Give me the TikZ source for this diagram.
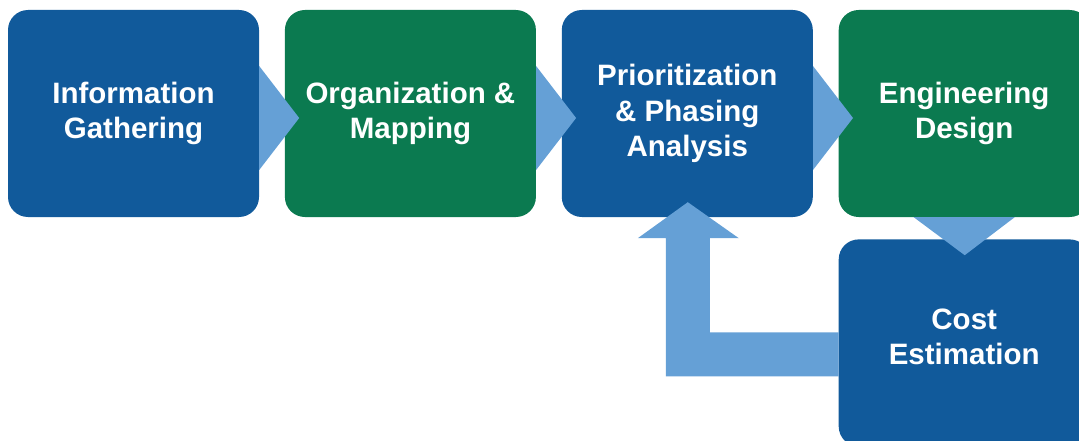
\documentclass[tikz,border=0pt]{standalone}
\usepackage{fontspec}
\setmainfont{Liberation Sans}
\usetikzlibrary{calc,positioning}

\definecolor{stepblue}{RGB}{17,90,155}
\definecolor{stepgreen}{RGB}{11,122,80}
\definecolor{flowblue}{RGB}{101,160,214}

\tikzset{
	stepbox/.style={rectangle, rounded corners=20pt, minimum width=251pt, minimum height=207pt, inner sep=0pt, text=white, align=center, font=\bfseries\fontsize{29.5}{35.5}\selectfont},
	stepblue/.style={stepbox, fill=stepblue},
	stepgreen/.style={stepbox, fill=stepgreen},
	steptext/.style={text=white, align=center, font=\bfseries\fontsize{29.5}{35.5}\selectfont},
	flow/.style={fill=flowblue}
}

\begin{document}
\begin{tikzpicture}[x=1pt, y=-1pt, node distance=25.5pt]
		%%%%% START %%%%%
		
		\clip (0,0) rectangle (1079,441);
		
		% process boxes
		\node[stepblue] (info) at (133.5,113.5) {Information\\Gathering};
		\node[stepgreen, right=of info] (org) {Organization \&\\Mapping};
		\node[stepblue, right=of org] (plan) {Prioritization\\\& Phasing\\Analysis};
		\node[stepgreen, right=of plan] (design) {Engineering\\Design};
		\node[stepblue, below=22pt of design] (cost) {};
		\node[steptext, yshift=6pt] (costtext) at (cost.center) {Cost\\Estimation};
		
		% chevrons along the top row
		\foreach \a in {info,org,plan}
			\fill[flow] ($(\a.east)+(0,-47.5)$) -- ($(\a.east)+(40,4.5)$) -- ($(\a.east)+(0,56.5)$) -- cycle;
		
		% down into cost box
		\fill[flow] ($(design.south)+(-50.5,0)$) -- ($(design.south)+(50.5,0)$) -- ($(design.south)+(0.5,38)$) -- cycle;
		
		% feedback arrow back up to prioritization
		\fill[flow] ($(cost.west)+(0,-10.5)$) -- ($(plan.south |- cost.west)+(22.5,-10.5)$)
			-- ($(plan.south)+(22.5,21)$) -- ($(plan.south)+(51.5,21)$) -- ($(plan.south)+(0.5,-15)$)
			-- ($(plan.south)+(-49.5,21)$) -- ($(plan.south)+(-21.5,21)$)
			-- ($(plan.south |- cost.west)+(-21.5,33.5)$) -- ($(cost.west)+(0,33.5)$) -- cycle;
		
		%%%%% END %%%%%
	\end{tikzpicture}
\end{document}
